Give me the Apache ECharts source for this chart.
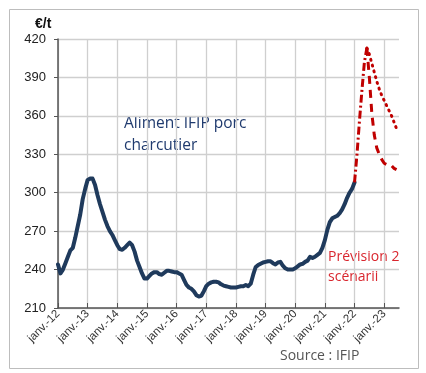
<!DOCTYPE html>
<html><head><meta charset="utf-8">
<script src="https://cdn.jsdelivr.net/npm/echarts@6/dist/echarts.min.js"></script>
<style>html,body{margin:0;padding:0;background:#fff}#c{width:426px;height:373px}</style>
</head><body><div id="c"></div>
<script>
// Monthly categories Jan 2012 .. Jul 2023
const years = ['12','13','14','15','16','17','18','19','20','21','22','23'];
const monthsFr = ['janv.','févr.','mars','avr.','mai','juin','juil.','août','sept.','oct.','nov.','déc.'];
const categories = [];
years.forEach(y => monthsFr.forEach(m => categories.push(m + '-' + y)));
categories.length = 139;

// Aliment IFIP porc charcutier (€/t), Jan 2012 .. Jan 2022
const aliment = [
  244,237,240,245,250,255,257,265,274,283,295,303,
  310,311,311,306,298,291,285,279,274,270,267,263,
  259,256,255.5,257,259,261,259,254,247,242,237,233,
  233,235,237,238,238,236.5,236,237.5,239,239,238.5,238,
  238,237,236,232,228,226,225,223,220,219,219.5,223,
  227,229,230,230.5,230.5,230,228.5,227.5,227,226.5,226,226,
  226,226.5,227,227,228,227,229,236,242,243.5,244.5,245.5,
  246,246.5,246.5,245,244,245.5,246,243,241,240,240,240,
  241,242.5,244,244.5,246,247,250,249,250,251.5,253,257,
  263,271,277,280,281,282,284,287,291,296,300,303,
  308
];
// Forecast rise (Jan 2022 .. Jun 2022)
const hausseStart = 120;
const hausse = [308,330,356,380,402,413];
// Two scenarios from Jun 2022 .. Jun 2023
const scenStart = 125;
const scenarioBas = [413,390,362,345,335,330,326,323,322,322,321,319,318];
const scenarioHaut = [413,408,401,394,387,381,376,372,368,364,360,355,350];

const yTicks = {min:210, max:420, interval:30};

function pad(start, arr){ const out = new Array(categories.length).fill(null); arr.forEach((v,i)=>out[start+i]=v); return out; }
const isJan = (i) => i % 12 === 0;

const chart = echarts.init(document.getElementById('c'), null, {renderer:'canvas'});
chart.setOption({
  animation:false,
  backgroundColor:'#fff',
  grid:{left:58, right:27, top:39, bottom:65, containLabel:false},
  xAxis:{
    type:'category', data:categories, boundaryGap:false,
    axisLine:{lineStyle:{color:'#555', width:1.5}},
    axisTick:{interval:(i)=>isJan(i), inside:true, length:5, lineStyle:{color:'#555'}},
    axisLabel:{interval:(i)=>isJan(i), rotate:45, fontSize:11.5, color:'#333', fontFamily:'Liberation Sans', margin:4},
    splitLine:{show:true, interval:(i)=>isJan(i), lineStyle:{color:'#cfcfcf', width:1.3}}
  },
  yAxis:{
    type:'value', min:yTicks.min, max:yTicks.max, interval:yTicks.interval,
    axisLine:{show:true, lineStyle:{color:'#555', width:1.5}},
    axisTick:{show:true, length:4, lineStyle:{color:'#555'}},
    axisLabel:{fontSize:13, color:'#222', fontFamily:'Liberation Sans', margin:12},
    splitLine:{lineStyle:{color:'#cfcfcf', width:1.3}}
  },
  series:[
    {type:'line', data:pad(0, aliment), showSymbol:false, connectNulls:false,
     lineStyle:{color:'#1f3a5c', width:4, join:'round', cap:'round'}, z:3},
    {type:'line', data:pad(hausseStart, hausse), showSymbol:false,
     lineStyle:{color:'#c00000', width:3, type:[8,3,2,3]}, z:4},
    {type:'line', data:pad(scenStart, scenarioBas), showSymbol:false,
     lineStyle:{color:'#c00000', width:3, type:[8,6]}, z:4},
    {type:'line', data:pad(scenStart, scenarioHaut), showSymbol:false,
     lineStyle:{color:'#c00000', width:3, type:[1,5], cap:'round'}, z:4}
  ],
  graphic:[
    {type:'rect', left:7, top:7, shape:{width:409, height:359}, style:{fill:'none', stroke:'#bdbdbd', lineWidth:1}, z:-1},
    {type:'text', left:35, top:17, style:{text:'€/t', font:'bold 14px "Liberation Sans"', fill:'#111'}},
    {type:'text', left:124, top:113, style:{text:'Aliment IFIP porc\ncharcutier', font:'15.5px "Open Sans"', lineHeight:22, fill:'#1f3a6e'}},
    {type:'text', left:328, top:247, style:{text:'Prévision 2\nscénarii', font:'14px "Open Sans"', lineHeight:20, fill:'#d9262e'}},
    {type:'text', left:280, top:349, style:{text:'Source : IFIP', font:'14px "Open Sans"', fill:'#555'}}
  ]
});
</script>
</body></html>
